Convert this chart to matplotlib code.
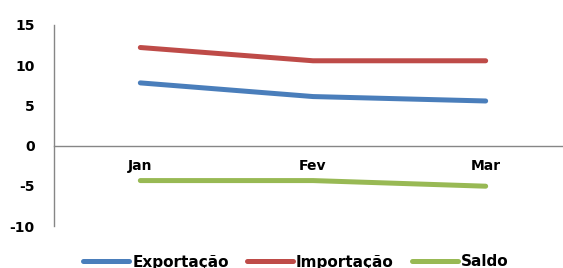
import matplotlib
matplotlib.use("Agg")
import matplotlib.pyplot as plt

categories = ["Jan", "Fev", "Mar"]
exportacao = [7.8, 6.1, 5.55]
importacao = [12.2, 10.55, 10.55]
saldo = [-4.35, -4.35, -5.05]
yticks = [-10, -5, 0, 5, 10, 15]

series = [("Exportação", exportacao, "#4A7EBB"),
          ("Importação", importacao, "#BE4B48"),
          ("Saldo", saldo, "#98B954")]

fig = plt.figure(figsize=(5.63, 2.68), dpi=100)
ax = fig.add_axes([54/563, 42/268, 518/563, 201/268])

ax.spines["top"].set_visible(False)
ax.spines["right"].set_visible(False)
ax.spines["bottom"].set_position(("data", 0))
ax.spines["bottom"].set_color("#868686")
ax.spines["left"].set_color("#868686")
ax.spines["bottom"].set_linewidth(1)
ax.spines["left"].set_linewidth(1)

x = list(range(len(categories)))
for name, vals, col in series:
    ax.plot(x, vals, color=col, lw=3.6, solid_capstyle="round",
            solid_joinstyle="round", label=name)

ax.set_xlim(-0.5, len(categories) - 0.5)
ax.set_ylim(-10, 15)
ax.set_yticks(yticks)
ax.set_yticklabels([str(t) for t in yticks], fontsize=10, fontweight="bold")
ax.set_xticks(x)
ax.set_xticklabels(categories, fontsize=10, fontweight="bold")
ax.tick_params(axis="both", length=0)
ax.tick_params(axis="y", pad=14)
ax.tick_params(axis="x", pad=10)

leg = fig.legend(loc="center", bbox_to_anchor=(296/563, 1 - 262/268), ncol=3,
                 frameon=False, prop={"weight": "bold", "size": 11},
                 handlelength=3.0, handletextpad=0.2, columnspacing=1.2,
                 borderaxespad=0, borderpad=0)

fig.savefig("out.png", dpi=100)
